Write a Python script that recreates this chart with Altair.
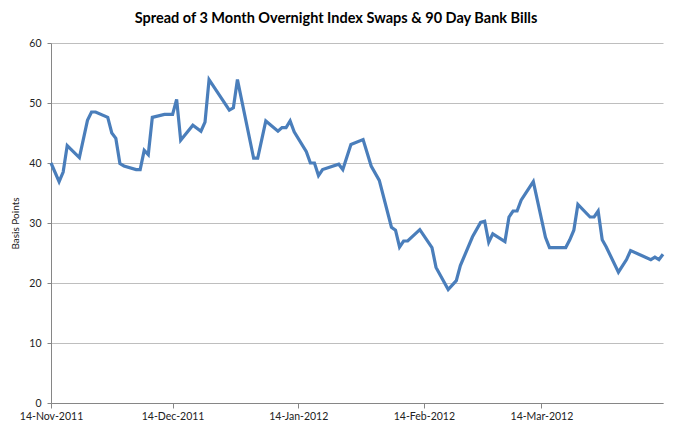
import altair as alt
import pandas as pd

start = pd.Timestamp("2011-11-14")
day_offsets = [0, 2, 3, 4, 7, 9, 10, 11, 14, 15, 16, 17, 18, 21, 22, 23, 24, 25, 28, 30,
               31, 32, 35, 37, 38, 39, 44, 45, 46, 50, 51, 53, 56, 57, 58, 59, 60, 63, 64, 65,
               66, 67, 71, 72, 74, 77, 79, 81, 84, 85, 86, 87, 88, 91, 94, 95, 98, 100, 101, 104,
               106, 107, 108, 109, 112, 113, 114, 115, 116, 119, 122, 123, 127, 128, 129, 130, 133, 134, 135, 136,
               137, 140, 142, 143, 148, 149, 150, 151]
spread = [40.0, 36.9, 38.5, 42.9, 40.9, 47.1, 48.5, 48.5, 47.6, 45.0, 44.1, 39.9, 39.5, 38.9, 38.9, 42.1, 41.4, 47.6, 48.1, 48.1,
          50.6, 43.8, 46.3, 45.3, 46.8, 53.9, 48.8, 49.2, 53.9, 40.8, 40.8, 47.0, 45.3, 45.9, 45.9, 47.0, 45.2, 41.9, 40.0, 40.0,
          37.9, 38.9, 39.8, 38.9, 43.1, 43.9, 39.5, 37.1, 29.3, 28.8, 26.0, 27.0, 27.0, 28.9, 25.9, 22.6, 18.9, 20.4, 22.9, 27.7,
          30.1, 30.3, 26.8, 28.2, 26.9, 31.0, 32.0, 32.0, 33.8, 36.9, 27.6, 25.9, 25.9, 27.2, 28.8, 33.1, 31.0, 31.0, 32.0, 27.2,
          26.0, 21.8, 23.9, 25.4, 23.9, 24.3, 23.9, 24.8]
dates = [(start + pd.Timedelta(days=d)).strftime("%Y-%m-%d") for d in day_offsets]

tick_dates = [(2011, 11, 14), (2011, 12, 14), (2012, 1, 14), (2012, 2, 14), (2012, 3, 14)]
y_ticks = [0, 10, 20, 30, 40, 50, 60]

df = pd.DataFrame({"date": dates, "value": spread})

FONT = "Lato"

chart = alt.Chart(df).mark_line(color="#4A7EBB", strokeWidth=3.2).encode(
    x=alt.X(
        "date:T",
        scale=alt.Scale(type="utc", domain=[alt.DateTime(year=2011, month=11, date=14, utc=True),
                                            alt.DateTime(year=2012, month=4, date=13, utc=True)]),
        axis=alt.Axis(
            title=None,
            values=[alt.DateTime(year=y, month=m, date=d, utc=True) for (y, m, d) in tick_dates],
            labelExpr="utcFormat(datum.value, '%d-%b-%Y')",
            labelFlush=False,
            labelAlign="center",
            grid=False,
            tickSize=5,
            labelPadding=3,
        ),
    ),
    y=alt.Y(
        "value:Q",
        scale=alt.Scale(domain=[0, 60], nice=False),
        axis=alt.Axis(
            title="Basis Points",
            values=y_ticks,
            grid=True,
            tickSize=4,
            labelPadding=6,
            titlePadding=8,
        ),
    ),
).properties(
    width=612,
    height=360,
    padding={"left": 43, "top": 35, "right": 8, "bottom": 26},
    autosize=alt.AutoSizeParams(type="none"),
    title=alt.TitleParams(
        "Spread of 3 Month Overnight Index Swaps & 90 Day Bank Bills",
        font=FONT, fontSize=14.5, fontWeight="bold", color="#000000", dx=-21, offset=12,
    ),
).configure_view(
    stroke=None
).configure_axis(
    labelFont=FONT,
    labelFontSize=10.5,
    labelColor="#222222",
    titleFont=FONT,
    titleFontSize=10,
    titleFontWeight="normal",
    titleColor="#222222",
    domainColor="#868686",
    tickColor="#868686",
    gridColor="#BEBEBE",
    gridWidth=1,
)

chart.save("out.html", embed_options={"renderer": "svg", "actions": False})
